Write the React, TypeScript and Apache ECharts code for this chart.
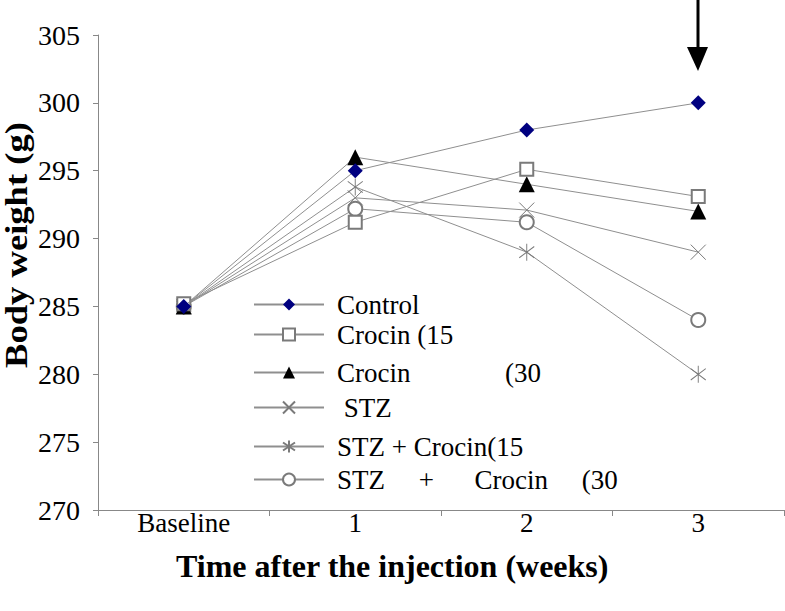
import React, { useEffect, useRef } from "react";
import * as echarts from "echarts";

const categories = ["Baseline", "1", "2", "3"];
const seriesNames = [
  "Control",
  "Crocin (15",
  "Crocin              (30",
  " STZ",
  "STZ + Crocin(15",
  "STZ     +      Crocin     (30",
];
const control = [285, 295, 298, 300];
const crocin15 = [285.2, 291.2, 295.1, 293.1];
const crocin30 = [285, 296, 294, 292];
const stz = [285, 293, 292.1, 289];
const stzCrocin15 = [285, 293.8, 289, 280];
const stzCrocin30 = [285, 292.2, 291.2, 284];
const yTicks = { min: 270, max: 305, interval: 5 };

const SERIF = "Liberation Serif, Times New Roman, serif";
const LINE = "#8f8f8f";
const MARK = "#7a7a7a";

const CROSS = "path://M0,0L10,10M10,0L0,10";
const STAR = "path://M1,2L9,10M9,2L1,10M5,0L5,12";

export default function App() {
  const ref = useRef<HTMLDivElement>(null);
  useEffect(() => {
    if (!ref.current) return;
    const chart = echarts.init(ref.current, undefined, { renderer: "svg" });
    const values = [control, crocin15, crocin30, stz, stzCrocin15, stzCrocin30];
    const symbols: any[] = ["diamond", "emptyRect", "triangle", CROSS, STAR, "emptyCircle"];
    const sizes: any[] = [15, 13, 16, 15, [15, 17], 14];
    const fills = ["#000080", MARK, "#000000", "#ffffff", "#ffffff", MARK];
    const borders = ["#000080", MARK, "#000000", MARK, MARK, MARK];
    const bw = [0, 1, 0, 1, 1, 1];
    const legendCenters = [305, 335, 373, 408, 447, 480];

    const series = values.map((v, i) => ({
      type: "line",
      name: seriesNames[i],
      data: v,
      symbol: symbols[i],
      symbolSize: sizes[i],
      showAllSymbol: true,
      lineStyle: { color: LINE, width: 1 },
      itemStyle: {
        color: fills[i],
        borderColor: borders[i],
        borderWidth: bw[i],
      },
      emphasis: { disabled: true },
      z: 10 - i,
    }));

    const legends = seriesNames.map((n, i) => ({
      data: [n],
      left: 253,
      top: legendCenters[i] - 14,
      orient: "horizontal",
      padding: 0,
      itemWidth: 70,
      itemHeight: 15,
      selectedMode: false,
      textStyle: {
        fontFamily: SERIF,
        fontSize: 27,
        color: "#000",
        padding: [0, 0, 0, 8],
      },
    }));

    chart.setOption({
      animation: false,
      backgroundColor: "#fff",
      textStyle: { fontFamily: SERIF },
      grid: { left: 98, right: 1, top: 35, bottom: 101, containLabel: false },
      legend: legends,
      xAxis: {
        type: "category",
        data: categories,
        boundaryGap: true,
        axisLine: { show: true, lineStyle: { color: "#888", width: 1 } },
        axisTick: { show: true, inside: false, length: 6, lineStyle: { color: "#888" } },
        axisLabel: { fontFamily: SERIF, fontSize: 27, color: "#000", margin: -1 },
        splitLine: { show: false },
      },
      yAxis: {
        type: "value",
        min: yTicks.min,
        max: yTicks.max,
        interval: yTicks.interval,
        axisLine: { show: true, lineStyle: { color: "#888", width: 1 } },
        axisTick: { show: true, inside: false, length: 5, lineStyle: { color: "#888" } },
        axisLabel: { fontFamily: SERIF, fontSize: 28, color: "#000", margin: 18 },
        splitLine: { show: false },
      },
      graphic: [
        {
          type: "text",
          left: "center",
          top: 550,
          style: {
            text: "Time after the injection (weeks)",
            font: `bold 32px ${SERIF}`,
            fill: "#000",
          },
        },
        {
          type: "text",
          x: 16,
          y: 245,
          rotation: Math.PI / 2,
          scaleX: 1.18,
          style: {
            text: "Body weight (g)",
            font: `bold 31px ${SERIF}`,
            fill: "#000",
            align: "center",
            verticalAlign: "middle",
          },
        },
        {
          type: "line",
          shape: { x1: 698, y1: 0, x2: 698, y2: 52 },
          style: { stroke: "#000", lineWidth: 3 },
        },
        {
          type: "polygon",
          shape: { points: [[687, 47], [708, 47], [698, 71]] },
          style: { fill: "#000" },
        },
      ],
      series,
    });
    return () => chart.dispose();
  }, []);
  return (
    <div
      ref={ref}
      style={{ position: "fixed", left: 0, top: 0, width: 785, height: 611 }}
    />
  );
}
